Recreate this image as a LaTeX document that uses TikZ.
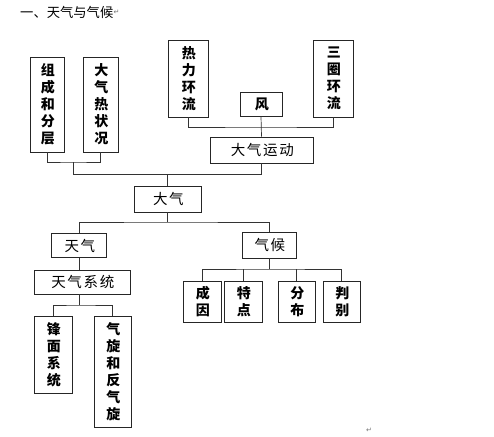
\documentclass[tikz,border=0pt]{standalone}
\usepackage{fontspec}
\newfontfamily\cjk{Noto Sans CJK SC}
\newfontfamily\cjkwide[LetterSpace=12]{Noto Sans CJK SC}
\newfontfamily\symfont{DejaVu Sans}
\begin{document}
\begin{tikzpicture}[x=1pt,y=-1pt,
  box/.style={draw=black!85,line width=0.9pt,rectangle,inner sep=0pt,
    font=\cjkwide\fontsize{14.5}{17}\selectfont,
    execute at end node={\hspace{-1.74pt}}},
  vbox/.style={box,align=center,font=\cjk\bfseries\fontsize{14}{17}\selectfont,
    execute at end node={}},
  conn/.style={draw=black!80,line width=0.7pt},
  ret/.style={font=\symfont\fontsize{7}{8}\selectfont,text=black!55,inner sep=0pt}]
\useasboundingbox (0,0) rectangle (494,436);
% title
\node[anchor=west,inner sep=0pt,font=\cjk\fontsize{13.3}{15}\selectfont] (title) at (20,12) {一、天气与气候};
\node[ret,anchor=west] (r1) at (title.east) {↵};
\node[ret] (r2) at (369,430) {↵};
% upper boxes
\node[vbox,minimum width=34,minimum height=95] (zc) at (47,104.5) {组\\成\\和\\分\\层};
\node[vbox,minimum width=35,minimum height=95] (dr) at (100.5,104.5) {大\\气\\热\\状\\况};
\node[vbox,minimum width=40,minimum height=77] (rl) at (188,78.5) {热\\力\\环\\流};
\node[vbox,minimum width=40,minimum height=77] (sq) at (333,78.5) {三\\圈\\环\\流};
\node[vbox,minimum width=42,minimum height=24] (feng) at (261,104) {风};
\node[box,minimum width=103,minimum height=26] (yd) at (261.5,150) {大气运动};
\node[box,minimum width=67,minimum height=26] (dq) at (167.5,199) {大气};
\node[box,minimum width=55,minimum height=24] (tq) at (79,245.5) {天气};
\node[box,minimum width=54,minimum height=26] (qh) at (269,245) {气候};
\node[box,minimum width=96,minimum height=24] (tqxt) at (82,282) {天气系统};
\node[vbox,minimum width=38,minimum height=77] (fm) at (53,354.5) {锋\\面\\系\\统};
\node[vbox,minimum width=37,minimum height=111] (qx) at (112.5,371.5) {气\\旋\\和\\反\\气\\旋};
\node[vbox,minimum width=38,minimum height=41] (cy) at (202,301.5) {成\\因};
\node[vbox,minimum width=38,minimum height=41] (td) at (243,301.5) {特\\点};
\node[vbox,minimum width=37,minimum height=41] (fb) at (296.5,301.5) {分\\布};
\node[vbox,minimum width=37,minimum height=41] (pb) at (341.5,301.5) {判\\别};
% junctions
\coordinate (j0) at (73,162);
\coordinate (bus1) at (73,174);
\coordinate (j2) at (261,127);
\coordinate (bus2) at (167.5,222);
\coordinate (bus3) at (79,305);
\coordinate (bus4) at (269,269);
% connectors
\draw[conn] (zc.south) |- (j0) -| (dr.south);
\draw[conn] (j0) -- (bus1) -| (yd.south);
\draw[conn] (dq.north) -- (dq.north |- bus1);
\draw[conn] (rl.south) |- (j2) -| (sq.south);
\draw[conn] (feng.south) -- (yd.north);
\draw[conn] (dq.south) -- (bus2);
\draw[conn] (tq.north) |- (bus2) -| (qh.north);
\draw[conn] (tq.south) -- (tq.south |- tqxt.north);
\draw[conn] (tq.south |- tqxt.south) -- (bus3);
\draw[conn] (fm.north) |- (bus3) -| (qx.north);
\draw[conn] (qh.south) -- (bus4);
\draw[conn] (cy.north) |- (bus4) -| (pb.north);
\draw[conn] (td.north) -- (td.north |- bus4);
\draw[conn] (fb.north) -- (fb.north |- bus4);
\end{tikzpicture}
\end{document}
